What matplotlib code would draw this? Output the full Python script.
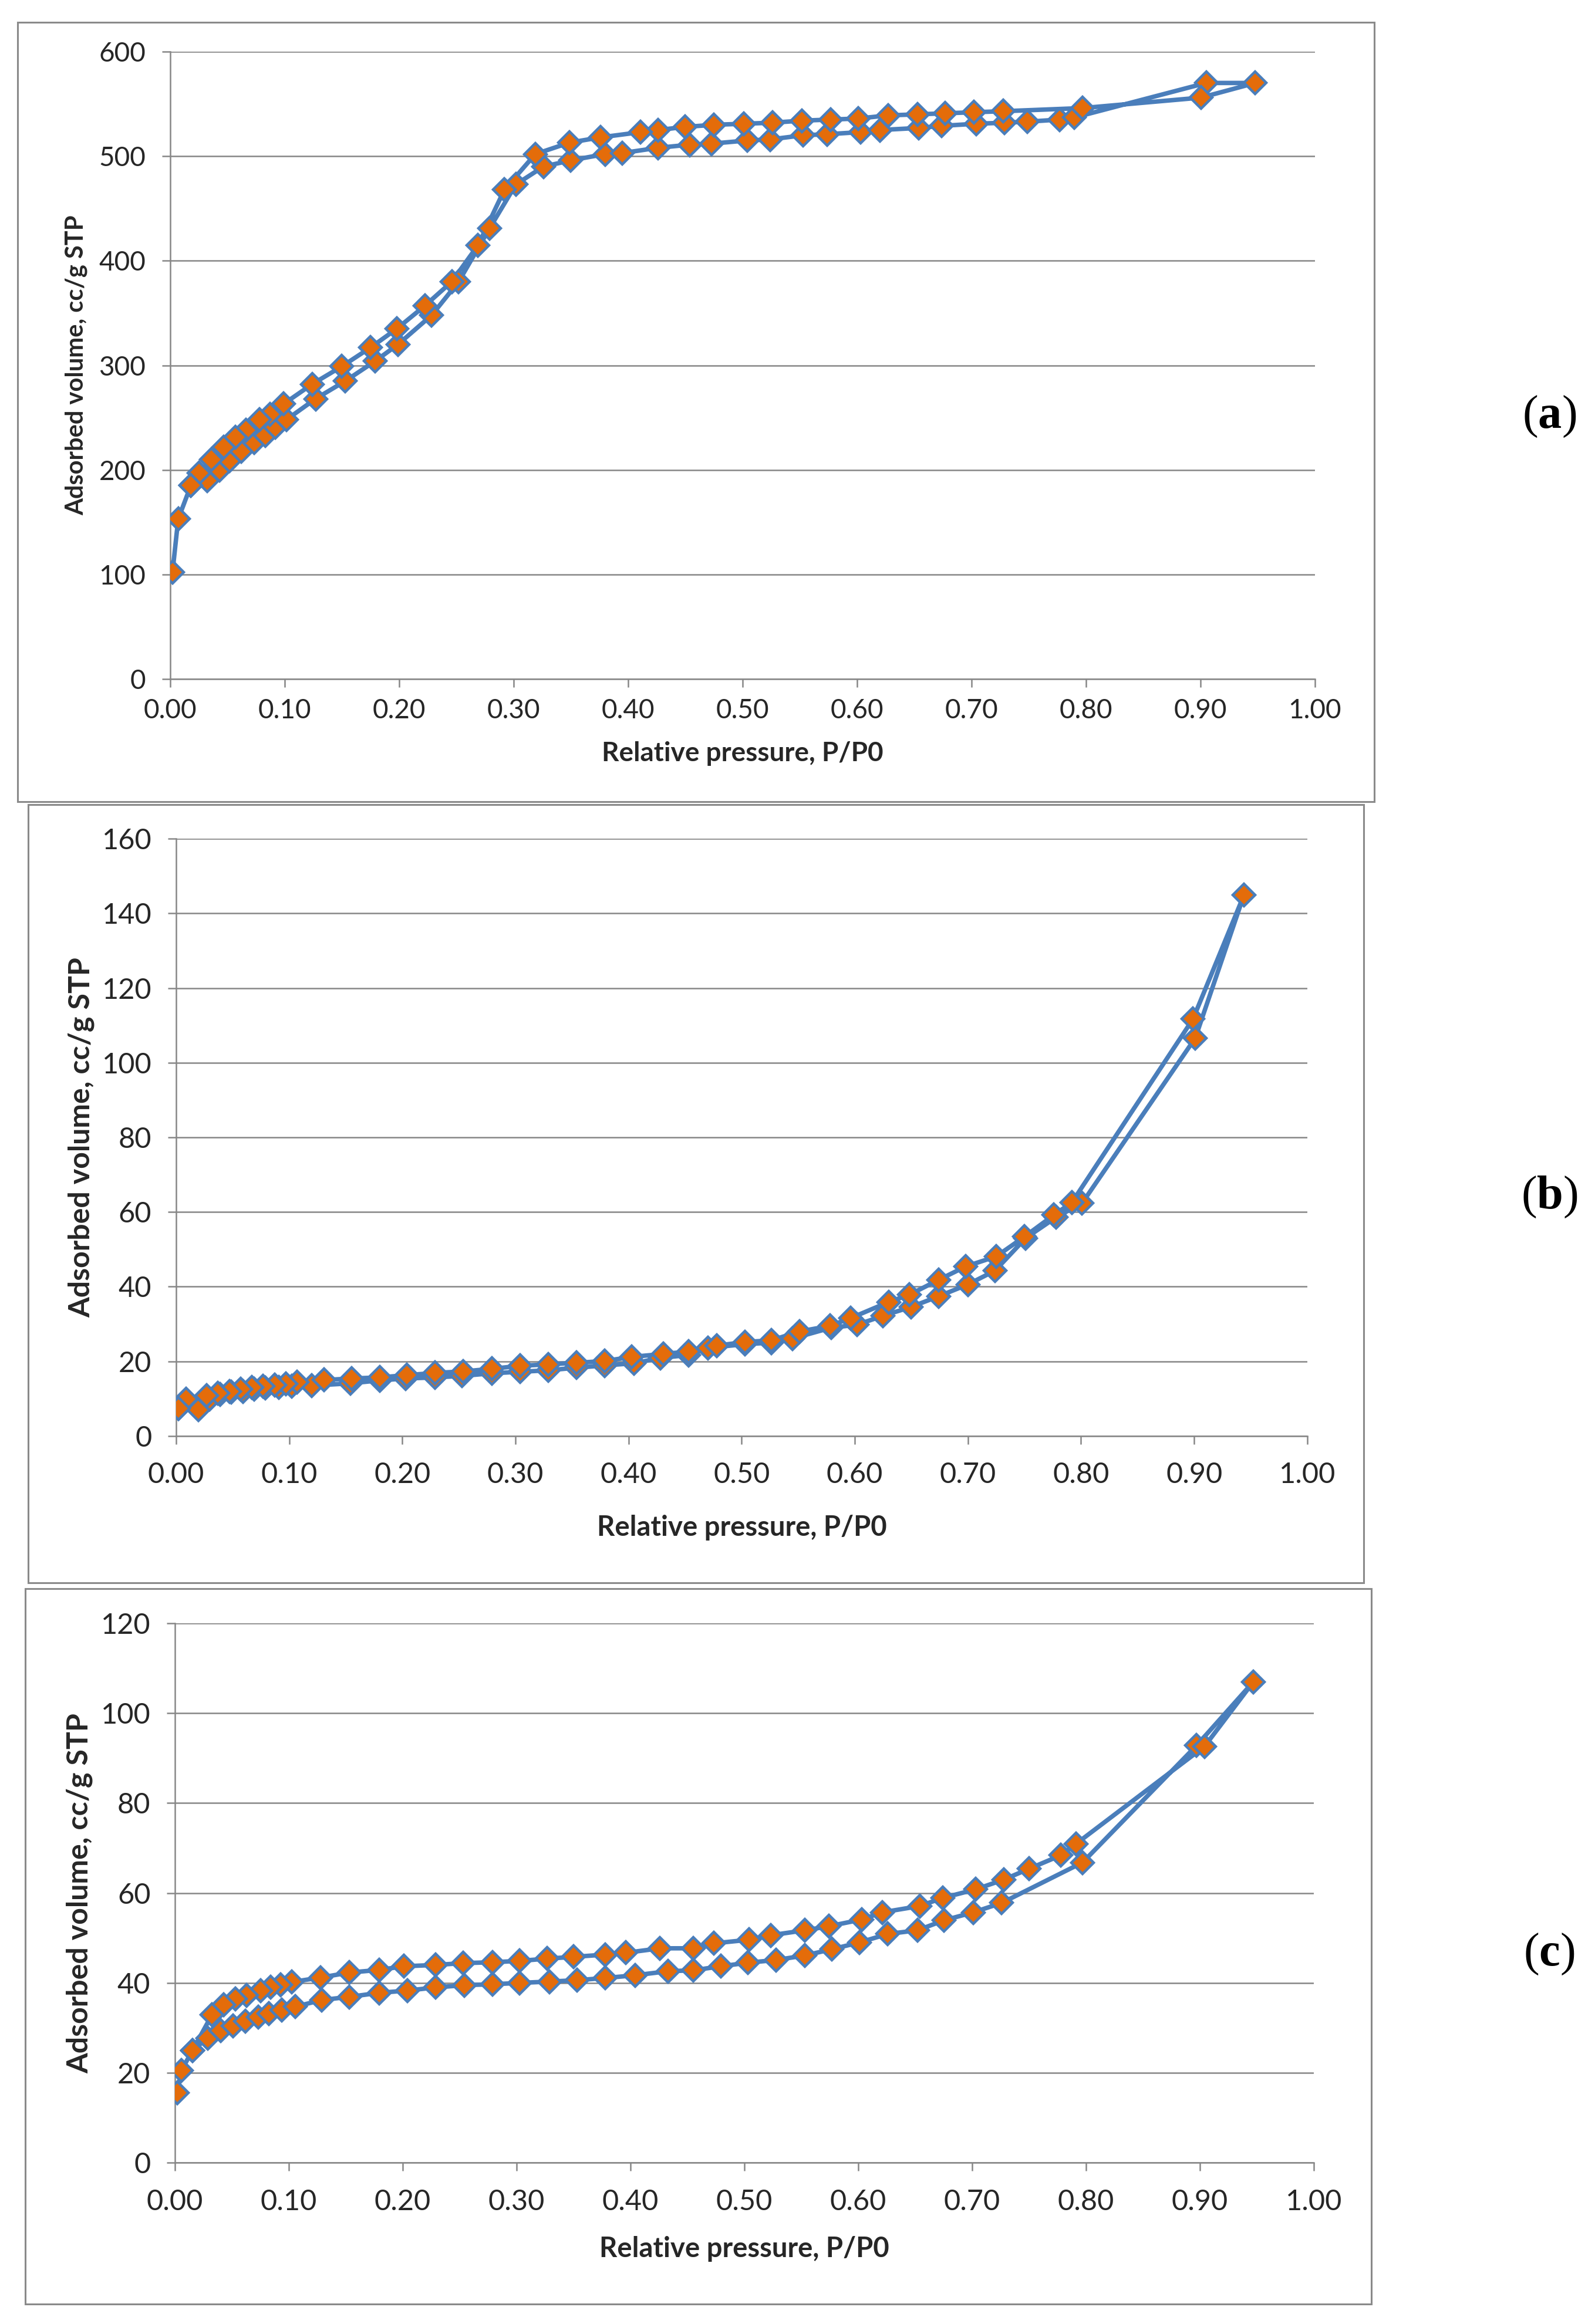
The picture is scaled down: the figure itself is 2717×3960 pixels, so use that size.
import matplotlib
matplotlib.use("Agg")
import matplotlib.pyplot as plt
import numpy as np
from matplotlib.patches import Rectangle
from matplotlib.ticker import MultipleLocator, FormatStrFormatter

plt.rcParams['font.family'] = ['Lato', 'DejaVu Sans']
plt.rcParams['mathtext.fontset'] = 'custom'
plt.rcParams['mathtext.bf'] = 'Liberation Serif:bold'
plt.rcParams['mathtext.rm'] = 'Liberation Serif'

# ---- panel (a): adsorption (lower) branch, then desorption (upper) branch
a_ads_x = [0.002, 0.007, 0.018, 0.0325, 0.043, 0.052, 0.062, 0.0735, 0.083, 0.092,
           0.1015, 0.127, 0.153, 0.179, 0.199, 0.2285, 0.252, 0.279, 0.302, 0.326,
           0.350, 0.380, 0.395, 0.426, 0.454, 0.473, 0.504, 0.524, 0.553, 0.574,
           0.603, 0.620, 0.654, 0.674, 0.704, 0.729, 0.749, 0.777, 0.790, 0.905, 0.948]
a_ads_y = [102, 153, 185, 190, 200, 209, 218, 226, 233, 241,
           248, 268, 285, 304, 320, 348, 380, 431, 473, 490,
           496, 502, 503, 508, 511, 512, 515, 516, 520, 521,
           523, 525, 527, 529, 531, 532, 533, 535, 537, 570, 570]
a_des_x = [0.9005, 0.797, 0.728, 0.702, 0.677, 0.653, 0.627, 0.601, 0.577, 0.552,
           0.526, 0.501, 0.475, 0.450, 0.426, 0.411, 0.376, 0.349, 0.319, 0.292,
           0.269, 0.246, 0.2225, 0.198, 0.175, 0.150, 0.124, 0.099, 0.087, 0.078,
           0.066, 0.057, 0.0467, 0.0357, 0.025, 0.018]
a_des_y = [556, 546, 543, 542, 541, 540, 539, 536, 535, 534,
           532, 531, 530, 528, 525, 523, 518, 513, 502, 468,
           415, 380, 357, 335, 317, 299, 282, 263, 253, 248,
           238, 231, 222, 210, 197, 185]

# ---- panel (b)
b_ads_x = [0.002, 0.0195, 0.0295, 0.039, 0.049, 0.059, 0.069, 0.079, 0.091, 0.102,
           0.120, 0.154, 0.180, 0.203, 0.229, 0.253, 0.279, 0.304, 0.329, 0.354,
           0.379, 0.405, 0.428, 0.453, 0.470, 0.503, 0.526, 0.545, 0.579, 0.602,
           0.625, 0.650, 0.674, 0.700, 0.724, 0.751, 0.778, 0.801, 0.901, 0.944]
b_ads_y = [7.3, 7.0, 9.9, 11.2, 11.7, 12.0, 12.5, 12.8, 13.1, 13.3,
           13.5, 14.1, 14.9, 15.4, 15.7, 16.1, 16.8, 17.2, 17.6, 18.3,
           18.9, 19.5, 20.9, 21.7, 23.6, 24.6, 25.0, 26.1, 29.0, 29.8,
           32.2, 34.6, 37.4, 40.6, 44.3, 53.0, 58.6, 62.4, 106.6, 144.9]
b_des_x = [0.899, 0.792, 0.776, 0.750, 0.725, 0.698, 0.674, 0.648, 0.630, 0.5965,
           0.578, 0.551, 0.526, 0.503, 0.478, 0.453, 0.431, 0.403, 0.379, 0.354,
           0.329, 0.304, 0.279, 0.254, 0.229, 0.204, 0.180, 0.155, 0.131, 0.107,
           0.097, 0.087, 0.077, 0.067, 0.057, 0.047, 0.037, 0.027, 0.0086, 0.002]
b_des_y = [111.7, 62.6, 59.2, 53.4, 48.1, 45.4, 41.8, 37.8, 35.9, 31.6,
           29.5, 28.0, 25.6, 25.2, 24.2, 22.6, 22.0, 21.2, 20.1, 19.6,
           19.2, 18.8, 18.0, 17.3, 16.9, 16.3, 15.7, 15.4, 15.0, 14.5,
           14.0, 13.7, 13.4, 13.0, 12.5, 12.0, 11.5, 10.9, 9.9, 7.3]

# ---- panel (c)
c_ads_x = [0.002, 0.0056, 0.0154, 0.0286, 0.040, 0.051, 0.062, 0.073, 0.0825, 0.094,
           0.1055, 0.129, 0.153, 0.1795, 0.204, 0.229, 0.254, 0.279, 0.3026, 0.329,
           0.353, 0.378, 0.404, 0.433, 0.455, 0.4795, 0.503, 0.528, 0.553, 0.577,
           0.601, 0.626, 0.652, 0.675, 0.701, 0.726, 0.797, 0.897, 0.947]
c_ads_y = [15.5, 20.5, 25.0, 27.7, 29.4, 30.4, 31.5, 32.4, 33.2, 34.0,
           34.7, 36.2, 36.9, 37.8, 38.3, 39.0, 39.5, 39.7, 40.0, 40.3,
           40.6, 41.1, 41.7, 42.6, 42.8, 43.7, 44.5, 45.1, 46.1, 47.5,
           49.0, 50.9, 51.7, 53.9, 55.7, 57.8, 66.8, 92.8, 107.0]
c_des_x = [0.904, 0.791, 0.778, 0.750, 0.728, 0.703, 0.674, 0.654, 0.621, 0.603,
           0.574, 0.553, 0.523, 0.504, 0.473, 0.455, 0.426, 0.396, 0.378, 0.350,
           0.327, 0.3026, 0.279, 0.253, 0.229, 0.201, 0.1795, 0.153, 0.128, 0.1026,
           0.093, 0.084, 0.075, 0.063, 0.053, 0.043, 0.0325, 0.0154]
c_des_y = [92.6, 70.9, 68.4, 65.4, 63.0, 60.8, 58.9, 57.1, 55.7, 54.1,
           52.6, 51.7, 50.6, 49.6, 48.8, 47.7, 47.7, 46.7, 46.3, 45.8,
           45.4, 44.9, 44.6, 44.4, 44.0, 43.7, 42.9, 42.3, 41.2, 40.2,
           39.6, 39.0, 38.3, 37.2, 36.5, 35.1, 32.9, 25.0]

panels = [
    ("a", a_ads_x, a_ads_y, a_des_x, a_des_y, 600, 100),
    ("b", b_ads_x, b_ads_y, b_des_x, b_des_y, 160, 20),
    ("c", c_ads_x, c_ads_y, c_des_x, c_des_y, 120, 20),
]

# layout in figure fractions
ax_rects = [[0.1067, 0.7078, 0.7177, 0.2700],
            [0.1104, 0.3821, 0.7092, 0.2570],
            [0.1097, 0.0694, 0.7140, 0.2321]]
frames = [[0.0110, 0.6551, 0.8506, 0.3353],
          [0.0177, 0.3189, 0.8373, 0.3349],
          [0.0158, 0.0086, 0.8440, 0.3078]]
xlabel_y = [-0.099, -0.132, -0.136]
tick_size = [33, 35, 35]
xlab_size = [33, 34, 34]
ylab_size = [30, 36, 36]
xpad = [14, 22, 22]
tag_y = [0.8207, 0.4848, 0.1591]

line_col = '#4A7EBB'
mark_col = '#E46C0A'
grid_col = '#878787'

fig = plt.figure(figsize=(27.17, 39.60), dpi=100)

for i, (tag, ax_x, ax_y, dx, dy, ymax, ystep) in enumerate(panels):
    fr = frames[i]
    fig.add_artist(Rectangle((fr[0], fr[1]), fr[2], fr[3], transform=fig.transFigure,
                             fill=False, ec='#8a8a8a', lw=2.2))
    ax = fig.add_axes(ax_rects[i])
    xs = np.concatenate([ax_x, dx])
    ys = np.concatenate([ax_y, dy])
    ax.plot(xs, ys, color=line_col, lw=5.5, marker='D', ms=19,
            mfc=mark_col, mec=line_col, mew=3.2, zorder=3)
    ax.set_xlim(0, 1.0)
    ax.set_ylim(0, ymax)
    ax.xaxis.set_major_locator(MultipleLocator(0.1))
    ax.xaxis.set_major_formatter(FormatStrFormatter('%.2f'))
    ax.yaxis.set_major_locator(MultipleLocator(ystep))
    ax.grid(axis='y', color=grid_col, lw=1.8)
    ax.set_axisbelow(True)
    for s in ['top', 'right']:
        ax.spines[s].set_visible(False)
    for s in ['left', 'bottom']:
        ax.spines[s].set_color(grid_col)
        ax.spines[s].set_linewidth(1.8)
    ax.tick_params(axis='both', direction='out', length=10, width=1.8,
                   color=grid_col, labelsize=tick_size[i], labelcolor='#262626')
    ax.tick_params(axis='x', pad=xpad[i])
    ax.tick_params(axis='y', pad=20)
    ax.set_xlabel("Relative pressure, P/P0", fontsize=xlab_size[i],
                  fontweight='bold', color='#262626')
    ax.set_ylabel("Adsorbed volume, cc/g STP", fontsize=ylab_size[i],
                  fontweight='bold', color='#262626')
    ax.xaxis.set_label_coords(0.5, xlabel_y[i])
    ax.yaxis.set_label_coords(-0.072, 0.5)
    fig.text(0.9713, tag_y[i], "($\\mathbf{" + tag + "}$)", fontsize=58,
             family='Liberation Serif', ha='center', va='center')

fig.savefig("out.png", dpi=100)
